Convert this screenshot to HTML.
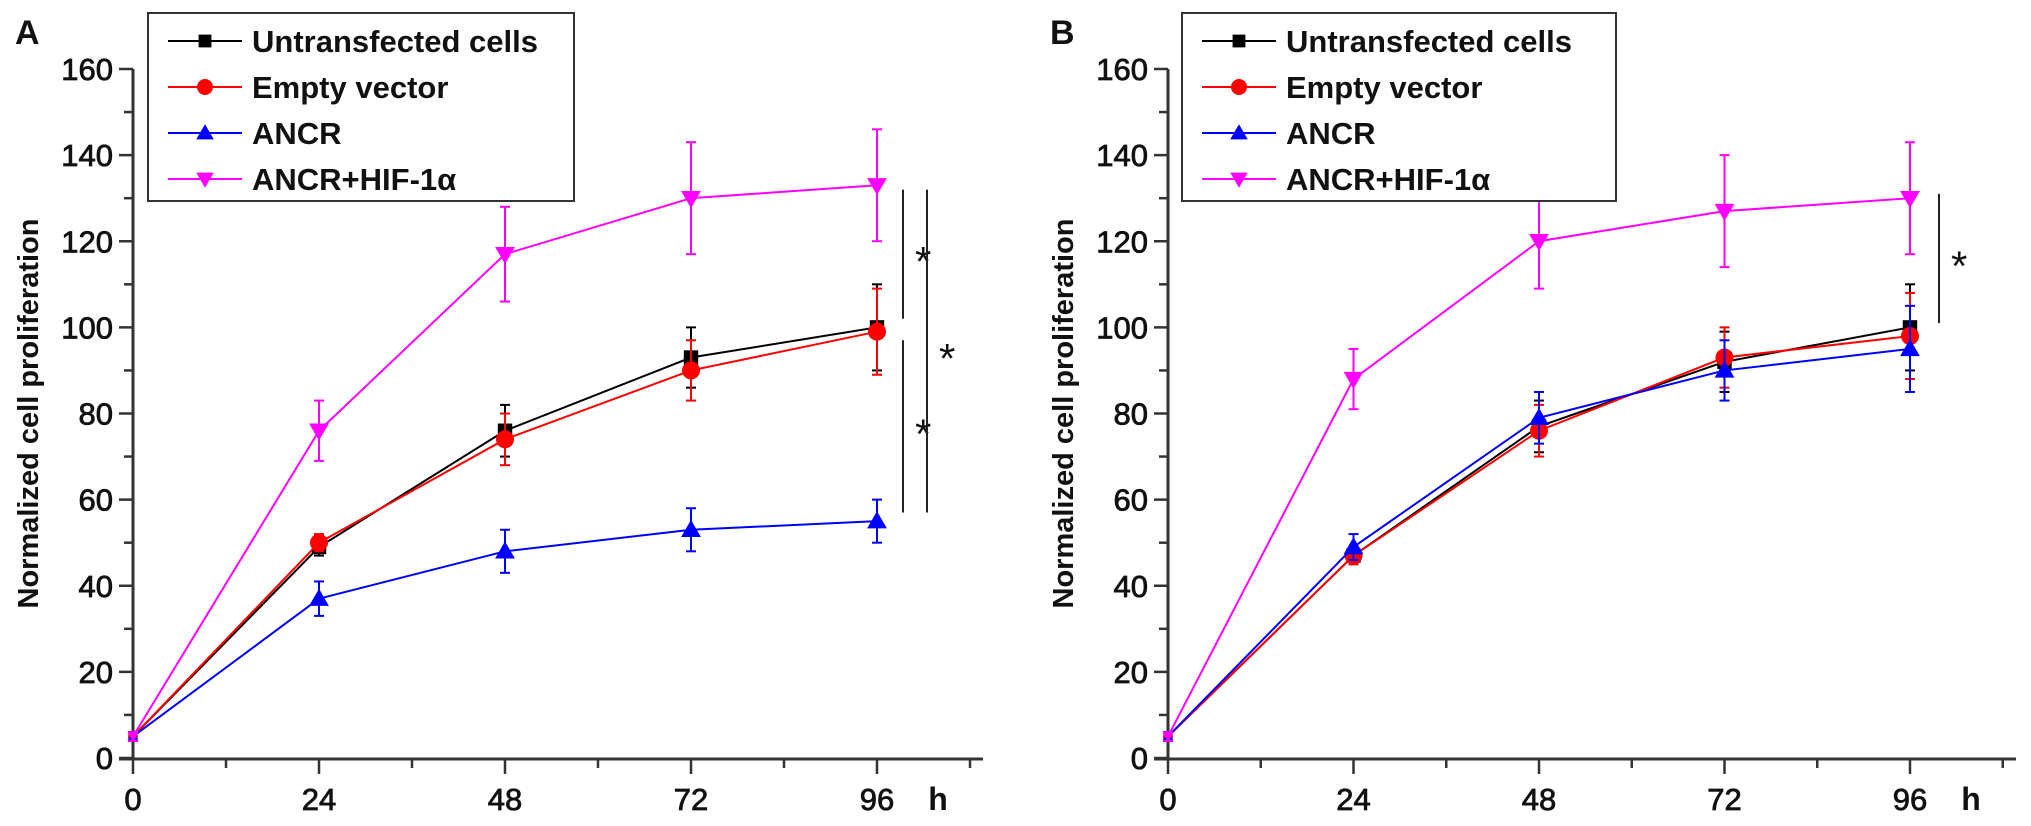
<!DOCTYPE html>
<html><head><meta charset="utf-8"><style>
body{margin:0;background:#fff;}
svg{display:block;font-family:"Liberation Sans",Arial,sans-serif;}
</style></head><body>
<svg id="chart" width="2031" height="826" viewBox="0 0 2031 826" xmlns="http://www.w3.org/2000/svg"></svg>
<script>
const hours = [0, 24, 48, 72, 96];
const yTicks = [0, 20, 40, 60, 80, 100, 120, 140, 160];
const xTicks = [0, 24, 48, 72, 96];
const seriesNames = ["Untransfected cells", "Empty vector", "ANCR", "ANCR+HIF-1α"];
const seriesColors = ["#000000", "#ff0000", "#0000ff", "#ff00ff"];
const seriesMarkers = ["square", "circle", "up", "down"];
const aUntr = [5, 49, 76, 93, 100];
const aEmpty = [5, 50, 74, 90, 99];
const aAncr = [5, 37, 48, 53, 55];
const aHif = [5, 76, 117, 130, 133];
const aUntrErr = [1, 2, 6, 7, 10];
const aEmptyErr = [1, 2, 6, 7, 10];
const aAncrErr = [1, 4, 5, 5, 5];
const aHifErr = [1, 7, 11, 13, 13];
const bUntr = [5, 47, 77, 92, 100];
const bEmpty = [5, 47, 76, 93, 98];
const bAncr = [5, 49, 79, 90, 95];
const bHif = [5, 88, 120, 127, 130];
const bUntrErr = [1, 2, 6, 7, 10];
const bEmptyErr = [1, 2, 6, 7, 10];
const bAncrErr = [1, 3, 6, 7, 10];
const bHifErr = [1, 7, 11, 13, 13];

const NS = "http://www.w3.org/2000/svg";
const svg = document.getElementById("chart");
function mk(tag, attrs, parent, text){
  const e = document.createElementNS(NS, tag);
  for (const k in attrs) e.setAttribute(k, attrs[k]);
  if (text !== undefined) e.textContent = text;
  (parent || svg).appendChild(e);
  return e;
}
function marker(g, type, x, y, color, s){
  let e;
  if (type === "square") e = mk("rect", {x:x-s*0.8, y:y-s*0.8, width:s*1.6, height:s*1.6, fill:color}, g);
  else if (type === "circle") e = mk("circle", {cx:x, cy:y, r:s, fill:color}, g);
  else if (type === "up") e = mk("polygon", {points:`${x},${y-s*1.1} ${x-s*1.1},${y+s*0.8} ${x+s*1.1},${y+s*0.8}`, fill:color}, g);
  else e = mk("polygon", {points:`${x},${y+s*1.1} ${x-s*1.1},${y-s*0.8} ${x+s*1.1},${y-s*0.8}`, fill:color}, g);
  return e;
}
function panel(cfg){
  const g = mk("g", {});
  
  
  const X = v => cfg.x0 + (v/96)*(cfg.x96 - cfg.x0);
  const Y = v => 758 - v*(758-69)/160;
  const ya = mk("line", {x1:cfg.x0, y1:Y(0), x2:cfg.x0, y2:Y(160), stroke:"#333", "stroke-width":3}, g);
  
  
  const xa = mk("line", {x1:cfg.x0-14, y1:Y(0)+1, x2:cfg.xEnd, y2:Y(0)+1, stroke:"#333", "stroke-width":3}, g);
  
  
  for (let v = 0; v <= 160; v += 10){
    mk("line", {x1:cfg.x0-(v%20===0?14:9), y1:Y(v), x2:cfg.x0, y2:Y(v), stroke:"#333", "stroke-width":2.5}, g);
  }
  yTicks.forEach(v => {
    const t = mk("text", {x:cfg.x0-20, y:Y(v)+11, "text-anchor":"end", "font-size":31, fill:"#111", stroke:"#111", "stroke-width":0.8}, g, String(v));
    
    
  });
  for (let h = 0; h <= 108; h += 12){
    mk("line", {x1:X(h), y1:Y(0), x2:X(h), y2:Y(0)+(h%24===0?16:10), stroke:"#333", "stroke-width":2.5}, g);
  }
  xTicks.forEach(v => {
    const t = mk("text", {x:X(v), y:810, "text-anchor":"middle", "font-size":31, fill:"#111", stroke:"#111", "stroke-width":0.8}, g, String(v));
    
    
  });
  const hl = mk("text", {x:cfg.x96+61, y:810, "text-anchor":"middle", "font-size":32, "font-weight":"bold", fill:"#111"}, g, "h");
  
  
  const yt = mk("text", {transform:`translate(${cfg.x0-95},${Y(80)}) rotate(-90)`, "text-anchor":"middle", "font-size":29, "font-weight":"bold", fill:"#111"}, g, "Normalized cell proliferation");
  
  
  const pl = mk("text", {x:cfg.x0-118, y:44, "font-size":34, "font-weight":"bold", fill:"#111"}, g, cfg.label);
  
  
  cfg.series.forEach((s, i) => {
    const sg = mk("g", {}, g);
    
    
    const pts = hours.map((h, j) => `${X(h)},${Y(s[j])}`).join(" ");
    mk("polyline", {points:pts, fill:"none", stroke:seriesColors[i], "stroke-width":2}, sg);
    hours.forEach((h, j) => {
      const e = cfg.errs[i][j];
      mk("line", {x1:X(h), y1:Y(s[j]-e), x2:X(h), y2:Y(s[j]+e), stroke:seriesColors[i], "stroke-width":2}, sg);
      mk("line", {x1:X(h)-5, y1:Y(s[j]-e), x2:X(h)+5, y2:Y(s[j]-e), stroke:seriesColors[i], "stroke-width":2}, sg);
      mk("line", {x1:X(h)-5, y1:Y(s[j]+e), x2:X(h)+5, y2:Y(s[j]+e), stroke:seriesColors[i], "stroke-width":2}, sg);
      const m = marker(sg, seriesMarkers[i], X(h), Y(s[j]), seriesColors[i], h===0?5:9);
      
      
    });
  });
  cfg.brackets.forEach(b => {
    const bg = mk("g", {}, g);
    
    
    mk("line", {x1:b[0], y1:Y(b[1]), x2:b[0], y2:Y(b[2]), stroke:"#222", "stroke-width":2}, bg);
    mk("text", {x:b[0]+12, y:Y((b[1]+b[2])/2)+22, "font-size":42, fill:"#111"}, bg, "*");
  });
  const lg = mk("g", {}, g);
  
  
  mk("rect", {x:cfg.lx, y:13, width:cfg.lw, height:188, fill:"#fff", stroke:"#333", "stroke-width":2}, lg);
  seriesNames.forEach((n, i) => {
    const y = 41 + i*46;
    const e = mk("g", {}, lg);
    
    
    mk("line", {x1:cfg.lx+20, y1:y, x2:cfg.lx+94, y2:y, stroke:seriesColors[i], "stroke-width":2}, e);
    marker(e, seriesMarkers[i], cfg.lx+57, y, seriesColors[i], 8);
    mk("text", {x:cfg.lx+104, y:y+11, "font-size":31, "font-weight":"bold", fill:"#111"}, e, n);
  });
}
panel({name:"panel-a", label:"A", x0:133, x96:877, xEnd:983, lx:148, lw:426,
  series:[aUntr, aEmpty, aAncr, aHif], errs:[aUntrErr, aEmptyErr, aAncrErr, aHifErr],
  brackets:[[903,132,102],[903,97,57],[927,132,57]]});
panel({name:"panel-b", label:"B", x0:1168, x96:1910, xEnd:2016, lx:1182, lw:434,
  series:[bUntr, bEmpty, bAncr, bHif], errs:[bUntrErr, bEmptyErr, bAncrErr, bHifErr],
  brackets:[[1939,131,101]]});
</script>
</body></html>
